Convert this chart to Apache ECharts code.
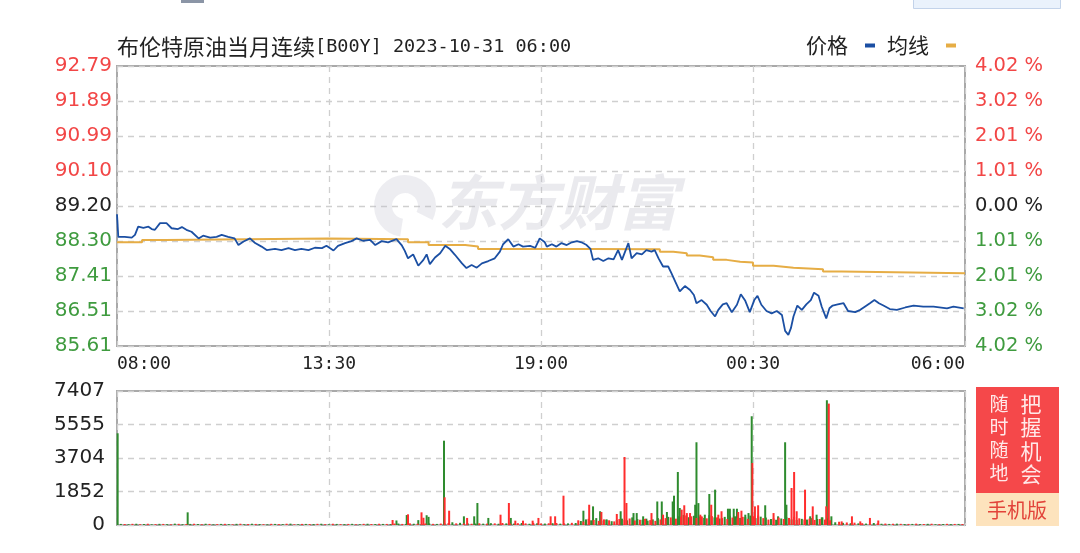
<!DOCTYPE html>
<html><head><meta charset="utf-8">
<script src="https://cdn.jsdelivr.net/npm/echarts@6.0.0/dist/echarts.min.js"></script>
<style>html,body{margin:0;padding:0;background:#fff}#c{width:1080px;height:553px}</style>
</head><body><div id="c"></div>
<script>
// ---- DATA ----
const titleName = '布伦特原油当月连续';
const titleCode = '[B00Y] 2023-10-31 06:00';
const seriesNames = ['价格', '均线'];
const prevClose = 89.20;
const priceStep = 0.8966;          // one tick step of the price axis
const sessionMinutes = 1320;        // 08:00 -> 06:00 next day
const timeTickMinutes = 330;
const volumeMax = 7407;
const adLeft = ['随', '时', '随', '地'];
const adRight = ['把', '握', '机', '会'];
const adBottom = '手机版';
const watermark = '东方财富';

// minute offset from 08:00, price
const priceMinutes = [0,2,12,23,28,33,41,49,54,59,67,77,85,95,101,108,116,127,134,145,155,163,173,183,189,197,207,215,225,233,246,256,267,277,287,298,308,319,326,337,344,355,365,373,383,394,402,412,422,435,443,448,453,461,469,477,482,487,495,503,511,518,526,537,544,552,560,568,578,588,596,601,609,617,625,632,643,651,658,666,669,677,684,692,700,708,716,723,731,737,741,749,757,765,773,780,786,789,796,801,809,817,824,832,837,843,850,858,863,869,876,884,892,898,902,910,918,924,931,936,943,949,957,965,971,978,985,992,997,1003,1011,1019,1027,1035,1040,1045,1049,1053,1059,1066,1073,1080,1085,1092,1097,1104,1109,1114,1122,1131,1138,1149,1157,1164,1172,1179,1186,1193,1203,1214,1227,1240,1255,1271,1292,1302,1318];
const priceValues = [88.99,88.41,88.41,88.39,88.46,88.67,88.64,88.67,88.61,88.59,88.76,88.76,88.63,88.61,88.66,88.59,88.54,88.37,88.44,88.39,88.41,88.46,88.41,88.37,88.20,88.29,88.37,88.25,88.16,88.07,88.10,88.07,88.12,88.07,88.10,88.07,88.13,88.12,88.18,88.06,88.18,88.25,88.30,88.37,88.31,88.33,88.20,88.30,88.27,88.35,88.20,88.05,87.86,87.96,87.67,87.82,87.96,87.71,87.88,87.99,88.18,88.10,87.95,87.73,87.61,87.69,87.62,87.73,87.79,87.86,88.03,88.22,88.35,88.16,88.22,88.16,88.18,88.13,88.37,88.27,88.16,88.22,88.16,88.25,88.20,88.27,88.30,88.27,88.20,88.10,87.82,87.86,87.79,87.86,87.83,88.07,87.82,87.77,88.25,87.86,87.99,87.96,88.07,88.03,88.07,87.86,87.65,87.65,87.48,87.26,87.01,87.15,87.05,86.92,86.71,86.79,86.67,86.51,86.37,86.54,86.68,86.71,86.48,86.67,86.94,86.77,86.48,86.79,86.90,86.67,86.51,86.45,86.51,86.41,86.00,85.90,86.07,86.37,86.65,86.54,86.68,86.79,86.98,86.90,86.62,86.32,86.58,86.65,86.68,86.71,86.51,86.48,86.54,86.62,86.71,86.79,86.71,86.65,86.56,86.54,86.60,86.65,86.62,86.62,86.58,86.62,86.58];

const avgMinutes = [0,39,75,328,453,485,542,562,740,845,866,887,907,928,949,970,990,1022,1053,1099,1128,1320];
const avgValues  = [88.27,88.33,88.37,88.35,88.27,88.20,88.16,88.10,88.09,88.03,87.99,87.93,87.89,87.82,87.77,87.75,87.67,87.62,87.58,87.52,87.48,87.48];

// volume bars [minute, volume]
const volGreen = [
 [1,5070],[110,700],[435,250],[451,550],[469,270],[482,540],[485,450],[509,4660],[540,480],[556,480],[561,1215],[578,390],[613,390],
 [726,790],[741,1030],[752,760],[762,300],[784,760],[804,660],[809,660],[819,480],[824,350],[841,1300],[848,1300],[856,720],[865,1300],[867,1620],[873,2930],[876,940],
 [900,1120],[902,4573],[905,1210],[915,570],[922,1715],[931,1953],[951,900],[954,900],[960,900],[965,900],[978,570],[983,660],[988,6011],[1009,1090],[1029,480],
 [1040,4573],[1042,1120],[1079,480],[1089,570],[1097,420],[1105,6896],[1112,480],
 [722,220],[730,310],[738,260],[746,380],[754,240],[762,300],[770,210],[778,280],[786,350],[794,260],[802,420],[810,330],[818,290],[826,240],[834,310],[842,380],[850,270],[858,450],[866,520],[874,480],[882,560],[890,430],[898,510],[906,470],[914,390],[922,540],[930,420],[938,360],[946,450],[954,510],[962,480],[970,390],[978,430],[986,520],[994,380],[1002,460],[1010,410],[1018,330],[1026,290],[1034,360],[1042,420],[1050,310],[1058,280],[1066,340],[1074,300],[1082,380],[1090,330],[1098,420],[1106,360],
 [6,60],[18,45],[30,70],[42,55],[54,40],[66,65],[78,50],[90,75],[102,45],[114,60],[126,55],[138,70],[150,40],[162,60],[174,50],[186,65],[198,45],[210,70],[222,55],[234,40],[246,60],[258,50],[270,75],[282,45],[294,60],[306,55],[318,70],[330,40],[342,60],[354,50],[366,65],[378,45],[390,70],[402,55],[414,60],[426,50],[438,80],[450,60],[462,70],[474,55],[486,90],[498,60],[510,85],[522,150],[534,120],[546,90],[558,80],[570,75],[582,100],[594,70],[606,90],[618,80],[630,110],[642,70],[654,95],[666,80],[678,100],[690,75],[702,90],[714,110],
 [1118,150],[1130,120],[1142,100],[1154,90],[1166,80],[1178,110],[1190,70],[1202,60],[1214,75],[1226,55],[1238,60],[1250,50],[1262,65],[1274,45],[1286,55],[1298,50],[1310,60]
];
const volRed = [
 [429,276],[453,590],[474,700],[477,400],[510,1530],[517,790],[545,390],[597,570],[610,1215],[620,240],[632,240],[647,240],[656,390],[675,480],[682,480],[695,1620],
 [735,1120],[754,720],[778,610],[790,3760],[793,1215],[832,660],[850,570],[879,850],[883,1090],[887,660],[892,660],[908,570],[910,480],[925,1120],[936,570],[941,760],
 [967,720],[972,790],[989,3429],[993,1030],[998,1090],[1022,660],[1050,2045],[1054,2930],[1058,760],[1071,1953],[1083,1030],[1104,1030],[1108,6710],
 [1128,200],[1144,480],[1157,200],[1172,390],[1185,250],
 [718,260],[726,190],[734,340],[742,280],[750,230],[758,310],[766,260],[774,200],[782,330],[790,280],[798,360],[806,250],[814,290],[822,340],[830,270],[838,230],[846,310],[854,380],[862,420],[870,350],[878,460],[886,530],[894,480],[902,390],[910,440],[918,370],[926,490],[934,420],[942,380],[950,330],[958,410],[966,370],[974,450],[982,340],[990,480],[998,520],[1006,380],[1014,300],[1022,360],[1030,410],[1038,330],[1046,390],[1054,450],[1062,370],[1070,300],[1078,350],[1086,280],[1094,330],[1102,300],[1110,260],
 [12,55],[24,65],[36,45],[48,70],[60,50],[72,60],[84,40],[96,65],[108,55],[120,70],[132,45],[144,60],[156,50],[168,65],[180,40],[192,70],[204,55],[216,60],[228,45],[240,65],[252,50],[264,70],[276,40],[288,60],[300,55],[312,65],[324,45],[336,70],[348,50],[360,60],[372,40],[384,65],[396,55],[408,70],[420,60],[432,80],[444,60],[456,90],[468,70],[480,85],[492,65],[504,80],[516,110],[528,90],[540,85],[552,70],[564,95],[576,75],[588,90],[600,110],[612,80],[624,100],[636,90],[648,120],[660,85],[672,95],[684,110],[696,90],[708,120],
 [1124,180],[1136,140],[1148,130],[1160,100],[1184,90],[1196,80],[1208,70],[1220,65],[1232,60],[1244,75],[1256,55],[1268,70],[1280,50],[1292,65],[1304,60],[1316,55]
];

// ---- CHART ----
const RED = '#f24646', GREEN = '#3f9b3f', DARK = '#222';
const pad = n => (n < 10 ? '0' : '') + n;
const timeFmt = m => { const t = (8 * 60 + Math.round(m)) % 1440; return pad(Math.floor(t / 60)) + ':' + pad(t % 60); };
const sideColor = v => v > 1e-6 ? RED : (v < -1e-6 ? GREEN : DARK);
const off = p => +(p - prevClose).toFixed(4);

const priceData = priceMinutes.map((m, i) => [m, off(priceValues[i])]);
const avgData = avgMinutes.map((m, i) => [m, off(avgValues[i])]);

const dash = { show: true, lineStyle: { color: '#cfcfcf', type: [6, 5], width: 1.3 } };
const numFont = 'DejaVu Sans';
const yMin = -4 * priceStep, yMax = 4 * priceStep;

const chart = echarts.init(document.getElementById('c'), null, { renderer: 'canvas' });
chart.setOption({
  animation: false,
  backgroundColor: '#fff',
  title: {
    text: '{a|' + titleName + '}{b|' + titleCode + '}',
    left: 112, top: 31,
    textStyle: { fontWeight: 'normal', rich: {
      a: { fontFamily: 'Noto Sans CJK SC', fontSize: 22, color: DARK, fontWeight: 'normal' },
      b: { fontFamily: 'DejaVu Sans Mono', fontSize: 18.5, color: DARK, fontWeight: 'normal' }
    } }
  },
  legend: {
    data: seriesNames, left: 801, top: 30, align: 'right', icon: 'rect',
    itemWidth: 10, itemHeight: 4, itemGap: 12,
    textStyle: { fontFamily: 'Noto Sans CJK SC', fontSize: 21, color: DARK, padding: [0, 12, 0, 0] }
  },
  grid: [
    { left: 117, top: 66, width: 848, height: 280, show: true, borderColor: '#a9a9a9', borderWidth: 2, backgroundColor: 'transparent' },
    { left: 117, top: 391, width: 848, height: 134, show: true, borderColor: '#a9a9a9', borderWidth: 2, backgroundColor: 'transparent' }
  ],
  xAxis: [
    { type: 'value', gridIndex: 0, min: 0, max: sessionMinutes, interval: timeTickMinutes,
      axisLine: { show: false }, axisTick: { show: false }, splitLine: dash,
      axisLabel: { formatter: timeFmt, fontFamily: 'DejaVu Sans Mono', fontSize: 18, color: DARK, margin: 9,
                   alignMinLabel: 'left', alignMaxLabel: 'right' } },
    { type: 'value', gridIndex: 1, min: 0, max: sessionMinutes, interval: timeTickMinutes,
      axisLine: { show: false }, axisTick: { show: false }, splitLine: dash, axisLabel: { show: false } }
  ],
  yAxis: [
    { type: 'value', gridIndex: 0, min: yMin, max: yMax, interval: priceStep, position: 'left',
      axisLine: { show: false }, axisTick: { show: false }, splitLine: dash,
      axisLabel: { formatter: v => (prevClose + v).toFixed(2), color: v => sideColor(v), fontFamily: numFont, fontSize: 20, margin: 5 } },
    { type: 'value', gridIndex: 0, min: yMin, max: yMax, interval: priceStep, position: 'right',
      axisLine: { show: false }, axisTick: { show: false }, splitLine: { show: false },
      axisLabel: { formatter: v => (Math.abs(v) / prevClose * 100).toFixed(2) + ' %', color: v => sideColor(v), fontFamily: numFont, fontSize: 19.5, margin: 10 } },
    { type: 'value', gridIndex: 1, min: 0, max: volumeMax, interval: volumeMax / 4,
      axisLine: { show: false }, axisTick: { show: false }, splitLine: dash,
      axisLabel: { formatter: v => String(Math.round(v)), color: DARK, fontFamily: numFont, fontSize: 20, margin: 12 } }
  ],
  series: [
    { name: seriesNames[0], type: 'line', xAxisIndex: 0, yAxisIndex: 0, data: priceData, showSymbol: false, z: 4,
      lineStyle: { color: '#1b4fa3', width: 1.8 }, itemStyle: { color: '#1b4fa3' } },
    { name: seriesNames[1], type: 'line', step: 'end', xAxisIndex: 0, yAxisIndex: 0, data: avgData, showSymbol: false, z: 3,
      lineStyle: { color: '#e6ad45', width: 2 }, itemStyle: { color: '#e6ad45' } },
    { name: 'vol-down', type: 'bar', xAxisIndex: 1, yAxisIndex: 2, data: volGreen, barWidth: 2, barGap: '-100%',
      itemStyle: { color: '#2e8b2e' } },
    { name: 'vol-up', type: 'bar', xAxisIndex: 1, yAxisIndex: 2, data: volRed, barWidth: 2, barGap: '-100%',
      itemStyle: { color: '#ff2d2d' } }
  ],
  graphic: [
    { type: 'rect', left: 181, top: 0, shape: { width: 23, height: 3 }, style: { fill: '#8b95a6' }, silent: true },
    { type: 'rect', left: 913, top: -2, shape: { width: 147, height: 10 }, style: { fill: '#eaf2fc', stroke: '#c3d3ea', lineWidth: 1 }, silent: true },
    { type: 'sector', shape: { cx: 405, cy: 206, r: 31, r0: 13, startAngle: Math.PI * 0.55, endAngle: Math.PI * 2.15 },
      style: { fill: 'rgba(190,192,204,0.28)' }, z: 1, silent: true },
    { type: 'text', left: 438, top: 172, z: 1, silent: true,
      style: { text: watermark, font: 'bold italic 60px "Noto Sans CJK SC"', fill: 'rgba(190,192,204,0.33)' } },
    { type: 'rect', left: 976, top: 387, shape: { width: 83, height: 106 }, style: { fill: '#f5484a' }, silent: true },
    { type: 'rect', left: 976, top: 493, shape: { width: 83, height: 33 }, style: { fill: '#fde3bd' }, silent: true },
    ...adLeft.map((ch, i) => ({ type: 'text', x: 999, y: 404 + i * 23, silent: true,
      style: { text: ch, font: '19px "Noto Sans CJK SC"', fill: '#ffe8e8', align: 'center', verticalAlign: 'middle' } })),
    ...adRight.map((ch, i) => ({ type: 'text', x: 1031, y: 404 + i * 23.5, silent: true,
      style: { text: ch, font: '21px "Noto Sans CJK SC"', fill: '#ffe8e8', align: 'center', verticalAlign: 'middle' } })),
    { type: 'text', x: 1017, y: 510, silent: true,
      style: { text: adBottom, font: '20px "Noto Sans CJK SC"', fill: '#e2443a', align: 'center', verticalAlign: 'middle' } }
  ]
});
</script></body></html>
